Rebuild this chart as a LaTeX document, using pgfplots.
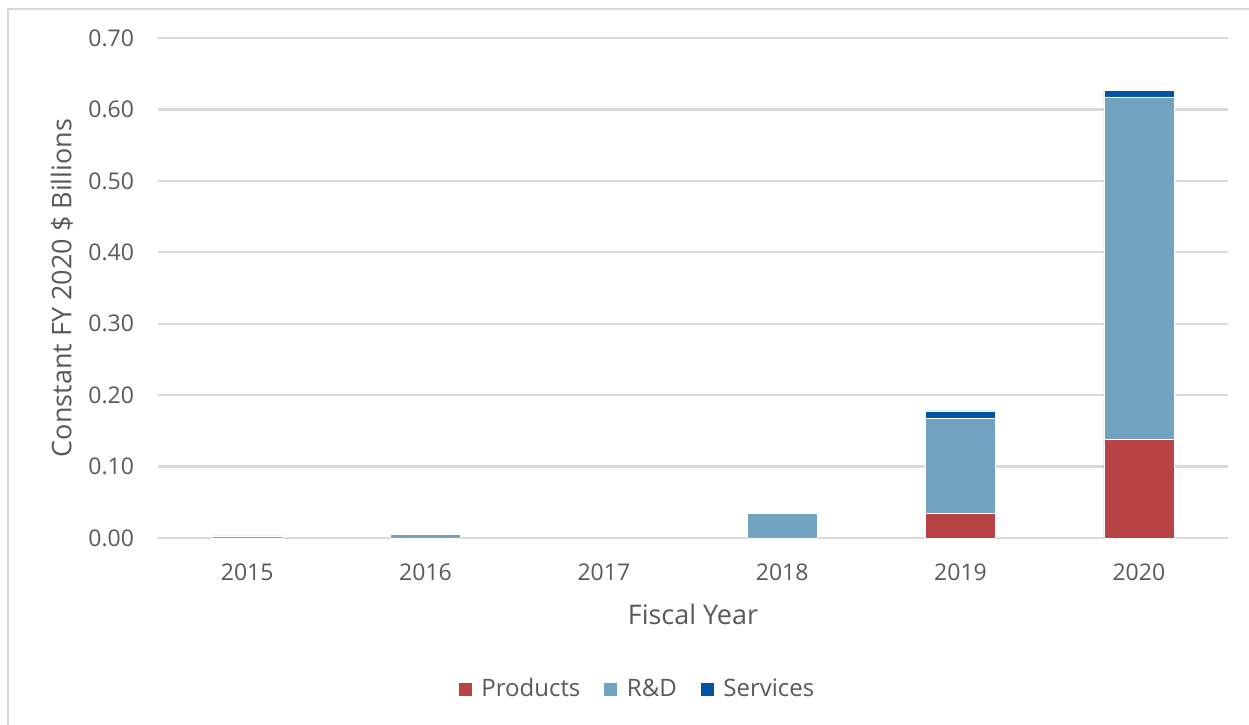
\documentclass[border=0pt]{standalone}
\usepackage{pgfplots}
\pgfplotsset{compat=1.18}
\usepackage{fontspec}
\setmainfont{Open Sans}
\definecolor{prodc}{RGB}{185,67,68}
\definecolor{rdc}{RGB}{113,162,192}
\definecolor{servc}{RGB}{0,84,166}
\definecolor{gridc}{RGB}{217,217,217}
\definecolor{txtc}{RGB}{89,89,89}
\begin{document}
\begin{tikzpicture}
\useasboundingbox (-79bp,-93.5bp) rectangle (545.5bp,269bp);
\draw[gridc, line width=1.2bp] (-75bp,-95bp) -- (-75bp,264.5bp) -- (550bp,264.5bp);
\begin{axis}[
  at={(0,0)}, anchor=south west,
  scale only axis, width=535bp, height=250bp,
  ybar stacked, bar width=35bp,
  xmin=-0.5, xmax=5.5, ymin=0, ymax=0.70,
  xtick={0,1,2,3,4,5},
  xticklabels={2015,2016,2017,2018,2019,2020},
  ytick={0,0.1,0.2,0.3,0.4,0.5,0.6,0.7},
  yticklabel style={/pgf/number format/fixed, /pgf/number format/fixed zerofill, /pgf/number format/precision=2, /pgf/number format/assume math mode=true},
  axis line style={draw=none},
  major tick length=0pt,
  ymajorgrids, grid style={gridc, line width=1.2bp},
  tick label style={font=\fontsize{11.5bp}{14bp}\selectfont, text=txtc},
  yticklabel style={xshift=-8.5bp},
  xticklabel style={yshift=-9.5bp},
  xlabel={Fiscal Year}, ylabel={Constant FY 2020 \$ Billions},
  label style={font=\fontsize{13.5bp}{16bp}\selectfont, text=txtc},
  xlabel style={at={(axis description cs:0.5,0)}, anchor=center, yshift=-38bp, xshift=0bp},
  ylabel style={at={(axis description cs:0,0.5)}, anchor=center, rotate=0, yshift=48bp},
  legend style={at={(240bp,-75.5bp)}, anchor=center, draw=none, fill=none,
    legend columns=3, font=\fontsize{12bp}{14bp}\selectfont, text=txtc,
    /tikz/every even column/.append style={column sep=9.5bp}},
  legend image code/.code={\fill[#1] (0bp,-3.5bp) rectangle (7bp,3.5bp); \path (9.5bp,0);},
  clip=false,
]
\addplot[fill=prodc, draw=white, line width=0.3bp] coordinates {(0,0) (1,0) (2,0) (3,0) (4,0.034) (5,0.1376)};
\addplot[fill=rdc, draw=white, line width=0.3bp] coordinates {(0,0.003) (1,0.005) (2,0) (3,0.034) (4,0.133) (5,0.480)};
\addplot[fill=servc, draw=white, line width=0.3bp] coordinates {(0,0) (1,0) (2,0) (3,0) (4,0.011) (5,0.009)};
\legend{Products, R\&D, Services}
\end{axis}
\end{tikzpicture}
\end{document}
